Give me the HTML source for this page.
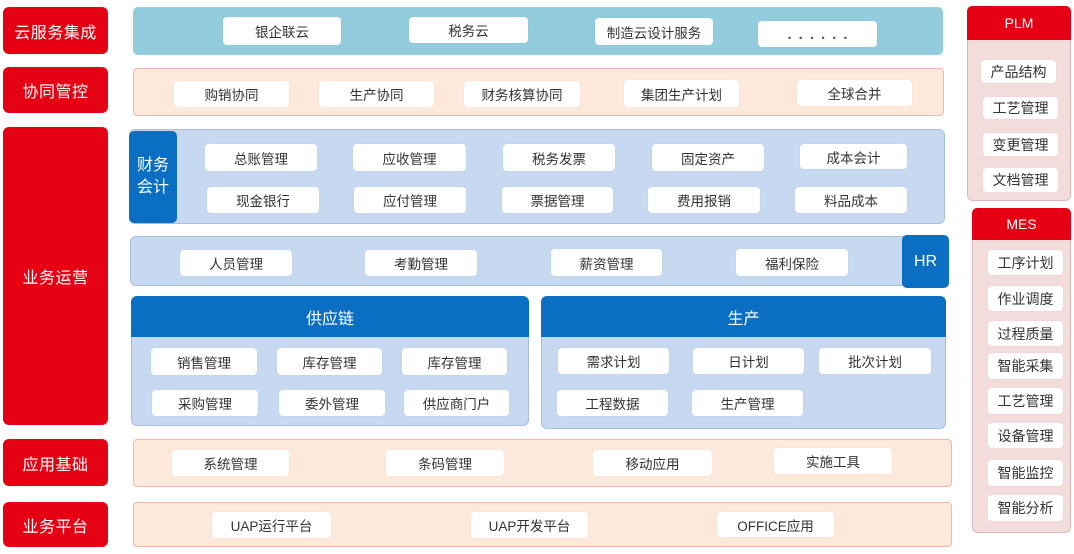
<!DOCTYPE html>
<html><head><meta charset="utf-8">
<style>
*{margin:0;padding:0;box-sizing:border-box}
body{width:1074px;height:554px;background:#fff;position:relative;overflow:hidden;font-family:"Liberation Sans","Noto Sans CJK SC",sans-serif}
.a{position:absolute}
.lab{position:absolute;left:3px;width:105px;background:#e50013;border-radius:6px;color:#fff;font-size:16px;display:flex;align-items:center;justify-content:center;letter-spacing:0.5px}
.it{position:absolute;background:#fff;border-radius:4px;color:#333;font-size:13.5px;display:flex;align-items:center;justify-content:center;box-shadow:0 0 1px rgba(0,0,0,0.08)}
.blue{background:#c6d9f0;border:1px solid #a6bfdd;border-radius:6px}
.peach{background:#fde9dc;border:1px solid #f0b8ae;border-radius:4px}
.tab{position:absolute;background:#0a6fc2;color:#fff;font-size:16px;border-radius:5px;display:flex;align-items:center;justify-content:center}
.rt{position:absolute;background:#f2dcdc;border:1px solid #dcb8b8;border-radius:6px}
.rh{position:absolute;background:#e50013;color:#fff;font-size:14px;display:flex;align-items:center;justify-content:center;border-radius:5px 5px 0 0}
</style></head><body>

<!-- left labels -->
<div class="lab" style="top:7px;height:47px">云服务集成</div>
<div class="lab" style="top:67px;height:46px">协同管控</div>
<div class="lab" style="top:127px;height:298px">业务运营</div>
<div class="lab" style="top:439px;height:47px">应用基础</div>
<div class="lab" style="top:502px;height:45px">业务平台</div>

<!-- cloud band -->
<div class="a" style="left:133px;top:7px;width:810px;height:48px;background:#93cddd;border-radius:5px"></div>
<div class="it" style="left:223px;top:17px;width:118px;height:28px">银企联云</div>
<div class="it" style="left:409px;top:17px;width:119px;height:26px">税务云</div>
<div class="it" style="left:595px;top:18px;width:118px;height:27px">制造云设计服务</div>
<div class="it" style="left:758px;top:21px;width:119px;height:26px;letter-spacing:7px;font-size:15px;font-weight:bold;color:#555;padding-left:7px">......</div>

<!-- collaboration band -->
<div class="a peach" style="left:133px;top:68px;width:811px;height:48px"></div>
<div class="it" style="left:174px;top:81px;width:115px;height:26px">购销协同</div>
<div class="it" style="left:319px;top:81px;width:115px;height:26px">生产协同</div>
<div class="it" style="left:464px;top:81px;width:116px;height:26px">财务核算协同</div>
<div class="it" style="left:624px;top:80px;width:115px;height:27px">集团生产计划</div>
<div class="it" style="left:797px;top:80px;width:115px;height:26px">全球合并</div>

<!-- finance band -->
<div class="a blue" style="left:129px;top:129px;width:816px;height:95px"></div>
<div class="tab" style="left:129px;top:131px;width:48px;height:92px;line-height:22px;text-align:center">财务<br>会计</div>
<div class="it" style="left:205px;top:144px;width:112px;height:27px">总账管理</div>
<div class="it" style="left:353px;top:144px;width:113px;height:27px">应收管理</div>
<div class="it" style="left:503px;top:144px;width:112px;height:27px">税务发票</div>
<div class="it" style="left:652px;top:144px;width:112px;height:27px">固定资产</div>
<div class="it" style="left:800px;top:144px;width:107px;height:25px">成本会计</div>
<div class="it" style="left:207px;top:187px;width:112px;height:26px">现金银行</div>
<div class="it" style="left:354px;top:187px;width:112px;height:26px">应付管理</div>
<div class="it" style="left:502px;top:187px;width:111px;height:26px">票据管理</div>
<div class="it" style="left:648px;top:187px;width:112px;height:26px">费用报销</div>
<div class="it" style="left:795px;top:187px;width:112px;height:26px">料品成本</div>

<!-- HR band -->
<div class="a blue" style="left:130px;top:236px;width:815px;height:50px"></div>
<div class="tab" style="left:902px;top:235px;width:47px;height:53px">HR</div>
<div class="it" style="left:180px;top:250px;width:112px;height:26px">人员管理</div>
<div class="it" style="left:365px;top:250px;width:112px;height:26px">考勤管理</div>
<div class="it" style="left:551px;top:249px;width:111px;height:27px">薪资管理</div>
<div class="it" style="left:736px;top:249px;width:112px;height:27px">福利保险</div>

<!-- supply chain panel -->
<div class="a blue" style="left:131px;top:296px;width:398px;height:130px"></div>
<div class="a" style="left:131px;top:296px;width:398px;height:41px;background:#0a6fc2;border-radius:6px 6px 0 0;color:#fff;font-size:16px;display:flex;align-items:center;justify-content:center">供应链</div>
<div class="it" style="left:151px;top:348px;width:106px;height:27px">销售管理</div>
<div class="it" style="left:277px;top:348px;width:105px;height:27px">库存管理</div>
<div class="it" style="left:402px;top:348px;width:105px;height:27px">库存管理</div>
<div class="it" style="left:152px;top:390px;width:106px;height:26px">采购管理</div>
<div class="it" style="left:279px;top:390px;width:106px;height:26px">委外管理</div>
<div class="it" style="left:404px;top:390px;width:105px;height:26px">供应商门户</div>

<!-- production panel -->
<div class="a blue" style="left:541px;top:296px;width:405px;height:133px"></div>
<div class="a" style="left:541px;top:296px;width:405px;height:41px;background:#0a6fc2;border-radius:6px 6px 0 0;color:#fff;font-size:16px;display:flex;align-items:center;justify-content:center">生产</div>
<div class="it" style="left:558px;top:348px;width:111px;height:26px">需求计划</div>
<div class="it" style="left:693px;top:348px;width:111px;height:26px">日计划</div>
<div class="it" style="left:819px;top:348px;width:112px;height:26px">批次计划</div>
<div class="it" style="left:557px;top:390px;width:111px;height:26px">工程数据</div>
<div class="it" style="left:692px;top:390px;width:111px;height:26px">生产管理</div>

<!-- application base band -->
<div class="a peach" style="left:133px;top:439px;width:819px;height:48px"></div>
<div class="it" style="left:172px;top:450px;width:117px;height:26px">系统管理</div>
<div class="it" style="left:386px;top:450px;width:118px;height:26px">条码管理</div>
<div class="it" style="left:593px;top:450px;width:119px;height:26px">移动应用</div>
<div class="it" style="left:774px;top:448px;width:118px;height:26px">实施工具</div>

<!-- platform band -->
<div class="a peach" style="left:133px;top:502px;width:819px;height:45px"></div>
<div class="it" style="left:212px;top:512px;width:119px;height:26px">UAP运行平台</div>
<div class="it" style="left:471px;top:512px;width:117px;height:26px">UAP开发平台</div>
<div class="it" style="left:717px;top:512px;width:117px;height:25px">OFFICE应用</div>

<!-- PLM -->
<div class="rt" style="left:967px;top:6px;width:104px;height:195px"></div>
<div class="rh" style="left:967px;top:6px;width:104px;height:34px">PLM</div>
<div class="it" style="left:981px;top:60px;width:75px;height:23px;font-size:14px">产品结构</div>
<div class="it" style="left:983px;top:97px;width:75px;height:22px;font-size:14px">工艺管理</div>
<div class="it" style="left:983px;top:133px;width:75px;height:23px;font-size:14px">变更管理</div>
<div class="it" style="left:983px;top:168px;width:75px;height:24px;font-size:14px">文档管理</div>

<!-- MES -->
<div class="rt" style="left:972px;top:208px;width:99px;height:325px"></div>
<div class="rh" style="left:972px;top:208px;width:99px;height:32px">MES</div>
<div class="it" style="left:988px;top:250px;width:75px;height:25px;font-size:14px">工序计划</div>
<div class="it" style="left:988px;top:286px;width:75px;height:25px;font-size:14px">作业调度</div>
<div class="it" style="left:988px;top:321px;width:75px;height:25px;font-size:14px">过程质量</div>
<div class="it" style="left:988px;top:353px;width:75px;height:26px;font-size:14px">智能采集</div>
<div class="it" style="left:988px;top:388px;width:75px;height:26px;font-size:14px">工艺管理</div>
<div class="it" style="left:988px;top:423px;width:75px;height:25px;font-size:14px">设备管理</div>
<div class="it" style="left:988px;top:460px;width:75px;height:26px;font-size:14px">智能监控</div>
<div class="it" style="left:988px;top:495px;width:75px;height:26px;font-size:14px">智能分析</div>

</body></html>
